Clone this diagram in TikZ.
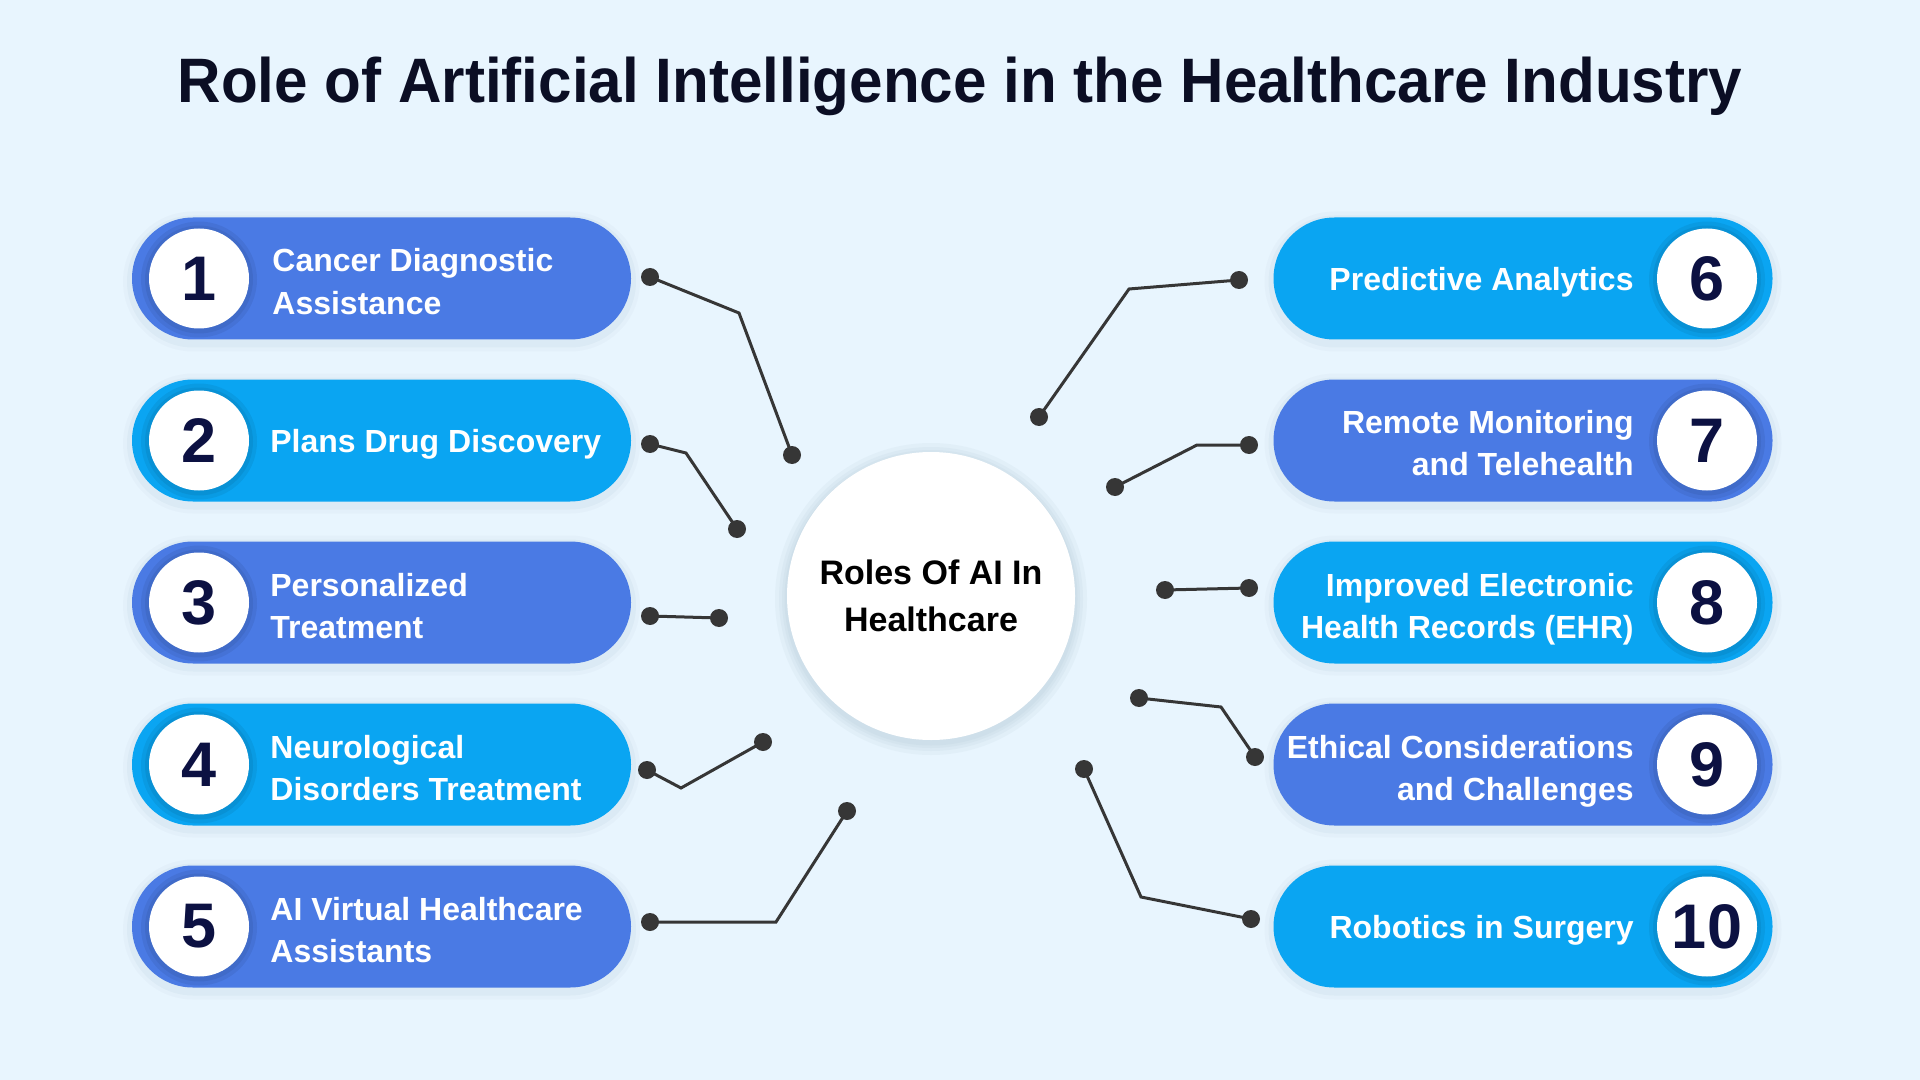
\documentclass[tikz,border=0pt]{standalone}
\usepackage{fontspec}
\usepackage{graphicx}
\setmainfont{Liberation Sans}
\definecolor{bgcol}{HTML}{E8F5FE}
\definecolor{pillA}{HTML}{4A7AE4}
\definecolor{pillB}{HTML}{0AA5F2}
\definecolor{navy}{HTML}{0C1142}
\definecolor{ttlcol}{HTML}{0B0E24}
\definecolor{linecol}{HTML}{363636}
\definecolor{shade}{HTML}{2B4A7A}
\definecolor{halo}{HTML}{8FAABB}
\newcommand\lblfnt{\fontsize{16pt}{21pt}\selectfont\bfseries}
\newcommand\numfnt{\fontsize{31.5pt}{36pt}\selectfont\bfseries}
\newcommand\ttlfnt{\fontsize{31.4pt}{36pt}\selectfont\bfseries}
\newcommand\ctrfnt{\fontsize{17pt}{23.5pt}\selectfont\bfseries}
\newcommand\Lt[1]{\begin{tabular}[t]{@{}l@{}}#1\end{tabular}}
\newcommand\Rt[1]{\begin{tabular}[t]{@{}r@{}}#1\end{tabular}}
\begin{document}
\begin{tikzpicture}[x=0.5pt,y=-0.5pt,
  pill/.style={rectangle, rounded corners=30.5pt, minimum width=249.5pt, minimum height=61pt, inner sep=0pt},
  pillshadow/.style={rectangle, fill=shade, fill opacity=0.04, inner sep=0pt, minimum width=254.5pt, minimum height=66pt, rounded corners=33pt},
  numc/.style={circle, fill=white, minimum size=50pt, inner sep=0pt, text=navy, font=\numfnt},
  numshadow/.style={circle, fill=black, fill opacity=0.06, minimum size=#1, inner sep=0pt},
  lbl/.style={text=white, font=\lblfnt, inner sep=0pt},
  dot/.style={circle, fill=linecol, minimum size=9pt, inner sep=0pt},
  link/.style={draw=linecol, line width=1.5pt},
  ttl/.style={text=ttlcol, font=\ttlfnt, inner sep=0pt},
  hub/.style={circle, fill=white, minimum size=144pt, inner sep=0pt, text=black, font=\ctrfnt, align=center},
  hubhalo/.style={circle, fill=halo, fill opacity=0.08, minimum size=#1, inner sep=0pt}
]
\useasboundingbox (0,0) rectangle (1920,1080);
\fill[bgcol] (0,0) rectangle (1920,1080);

% title
\node[ttl, anchor=base] (title) at (960,103) {\scalebox{0.958}[1]{Role of Artificial Intelligence in the Healthcare Industry}};

% pill shadows
\foreach \yy in {278.5,440.5,602.5,764.5,926.5}{
  \node[pillshadow] at (381.5,\yy+3) {};
  \node[pillshadow, minimum width=258.5pt, minimum height=70pt, rounded corners=35pt, fill opacity=0.025] at (381.5,\yy+3) {};
  \node[pillshadow] at (1523,\yy+3) {};
  \node[pillshadow, minimum width=258.5pt, minimum height=70pt, rounded corners=35pt, fill opacity=0.025] at (1523,\yy+3) {};
}

% left pills
\node[pill, fill=pillA] (p1) at (381.5,278.5) {};
\node[pill, fill=pillB] (p2) at (381.5,440.5) {};
\node[pill, fill=pillA] (p3) at (381.5,602.5) {};
\node[pill, fill=pillB] (p4) at (381.5,764.5) {};
\node[pill, fill=pillA] (p5) at (381.5,926.5) {};
% right pills
\node[pill, fill=pillB] (p6) at (1523,278.5) {};
\node[pill, fill=pillA] (p7) at (1523,440.5) {};
\node[pill, fill=pillB] (p8) at (1523,602.5) {};
\node[pill, fill=pillA] (p9) at (1523,764.5) {};
\node[pill, fill=pillB] (p10) at (1523,926.5) {};

% number circle shadows
\foreach \xx in {199,1707}{
  \foreach \yy in {278.5,440.5,602.5,764.5,926.5}{
    \node[numshadow=58pt] at (\xx,\yy+1) {};
    \node[numshadow=54pt] at (\xx,\yy+1) {};
  }
}

% number circles
\node[numc] (n1) at (199,278.5) {1};
\node[numc] (n2) at (199,440.5) {2};
\node[numc] (n3) at (199,602.5) {3};
\node[numc] (n4) at (199,764.5) {4};
\node[numc] (n5) at (199,926.5) {5};
\node[numc] (n6) at (1707,278.5) {6};
\node[numc] (n7) at (1707,440.5) {7};
\node[numc] (n8) at (1707,602.5) {8};
\node[numc] (n9) at (1707,764.5) {9};
\node[numc] (n10) at (1707,926.5) {10};

% labels
\node[lbl, anchor=base west] (l1) at (272,272) {\Lt{Cancer Diagnostic\\Assistance}};
\node[lbl, anchor=base west] (l2) at (270,452.5) {Plans Drug Discovery};
\node[lbl, anchor=base west] (l3) at (270,596) {\Lt{Personalized\\Treatment}};
\node[lbl, anchor=base west] (l4) at (270,758) {\Lt{Neurological\\Disorders Treatment}};
\node[lbl, anchor=base west] (l5) at (270,920) {\Lt{AI Virtual Healthcare\\Assistants}};
\node[lbl, anchor=base east] (l6) at (1634,290.5) {Predictive Analytics};
\node[lbl, anchor=base east] (l7) at (1634,433) {\Rt{Remote Monitoring\\and Telehealth}};
\node[lbl, anchor=base east] (l8) at (1634,596) {\Rt{Improved Electronic\\Health Records (EHR)}};
\node[lbl, anchor=base east] (l9) at (1634,758) {\Rt{Ethical Considerations\\and Challenges}};
\node[lbl, anchor=base east] (l10) at (1634,938.5) {Robotics in Surgery};

% hub
\foreach \s in {156,152,149,146.5}{
  \node[hubhalo=\s pt] at (931,599) {};
}
\node[hub] (hub) at (931,596) {Roles Of AI In\\Healthcare};

% connector dots
\node[dot] (a1) at (650,277) {};  \coordinate (b1) at (739,313);  \node[dot] (c1) at (792,455) {};
\node[dot] (a2) at (650,444) {};  \coordinate (b2) at (686,453);  \node[dot] (c2) at (737,529) {};
\node[dot] (a3) at (650,616) {};  \node[dot] (c3) at (719,618) {};
\node[dot] (a4) at (647,770) {};  \coordinate (b4) at (681,788);  \node[dot] (c4) at (763,742) {};
\node[dot] (a5) at (650,922) {};  \coordinate (b5) at (776,922);  \node[dot] (c5) at (847,811) {};
\node[dot] (a6) at (1239,280) {}; \coordinate (b6) at (1129,289); \node[dot] (c6) at (1039,417) {};
\node[dot] (a7) at (1249,445) {}; \coordinate (b7) at (1197,445); \node[dot] (c7) at (1115,487) {};
\node[dot] (a8) at (1249,588) {}; \node[dot] (c8) at (1165,590) {};
\node[dot] (a9) at (1255,757) {}; \coordinate (b9) at (1221,707); \node[dot] (c9) at (1139,698) {};
\node[dot] (a10) at (1251,919) {}; \coordinate (b10) at (1141,897); \node[dot] (c10) at (1084,769) {};

% connectors
\draw[link] (a1.center) -- (b1) -- (c1.center);
\draw[link] (a2.center) -- (b2) -- (c2.center);
\draw[link] (a3.center) -- (c3.center);
\draw[link] (a4.center) -- (b4) -- (c4.center);
\draw[link] (a5.center) -- (b5) -- (c5.center);
\draw[link] (a6.center) -- (b6) -- (c6.center);
\draw[link] (a7.center) -- (b7) -- (c7.center);
\draw[link] (a8.center) -- (c8.center);
\draw[link] (a9.center) -- (b9) -- (c9.center);
\draw[link] (a10.center) -- (b10) -- (c10.center);
\end{tikzpicture}
\end{document}
